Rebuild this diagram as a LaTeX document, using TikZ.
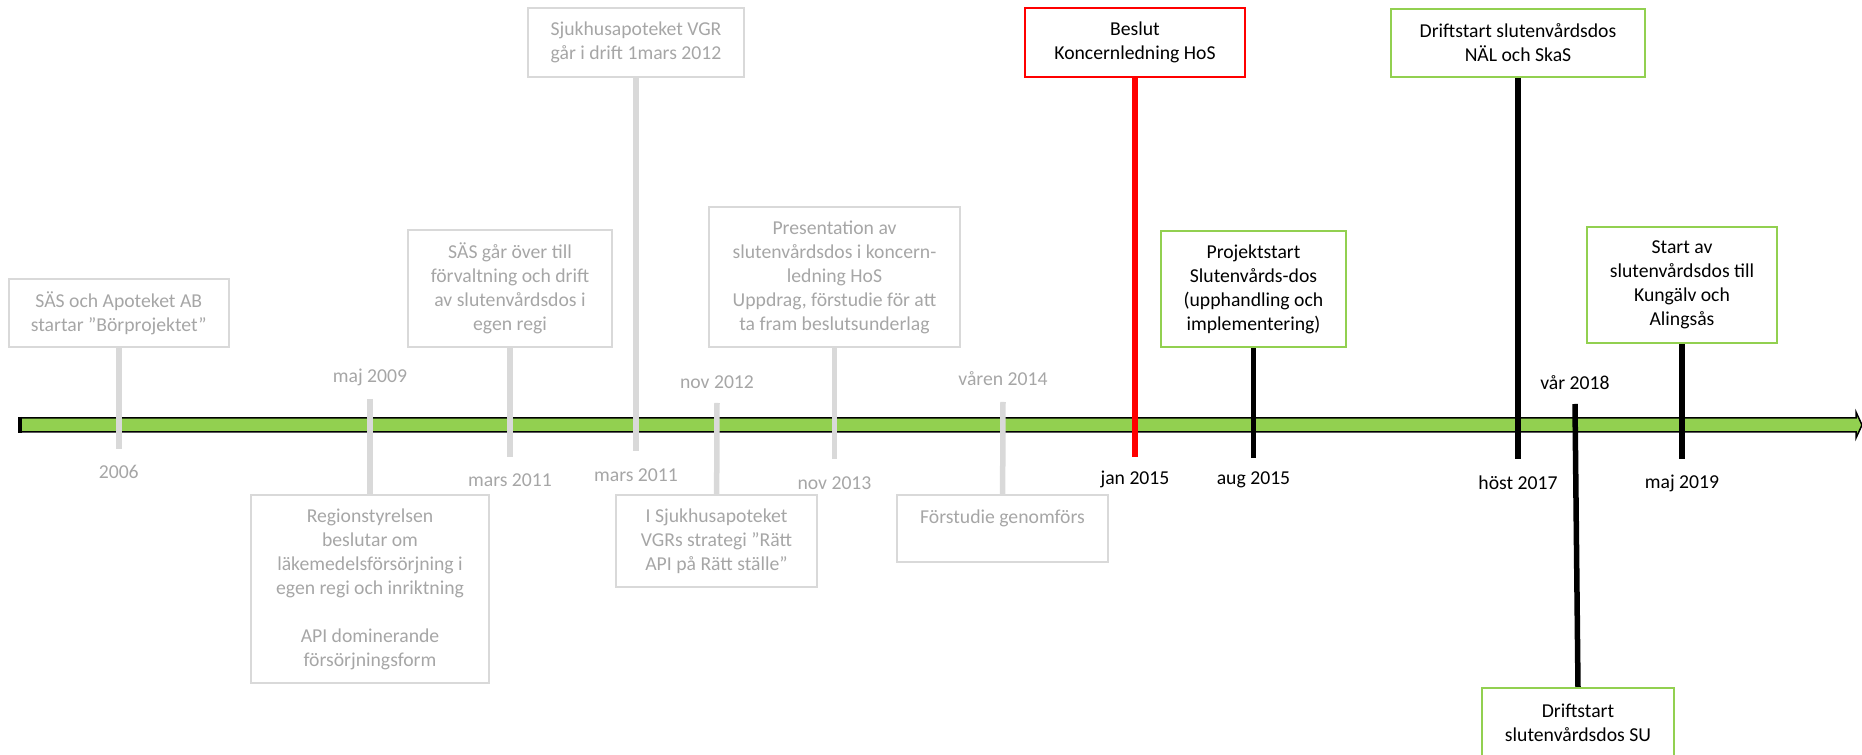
\documentclass[tikz,border=0pt]{standalone}
\usepackage{fontspec}
\setmainfont{Carlito}

\definecolor{boxgray}{RGB}{217,217,217}
\definecolor{txtgray}{RGB}{166,166,166}
\definecolor{linegreen}{RGB}{146,208,80}

\tikzset{
  graybox/.style={draw=boxgray, line width=0.02cm, text=txtgray, align=center, inner sep=0pt},
  greenbox/.style={draw=linegreen, line width=0.02cm, align=center, inner sep=0pt},
  redbox/.style={draw=red, line width=0.015cm, align=center, inner sep=0pt},
  graystem/.style={boxgray, line width=0.055cm},
  blackstem/.style={black, line width=0.055cm},
  redstem/.style={red, line width=0.055cm},
  graydate/.style={text=txtgray},
  blackdate/.style={text=black}
}

\begin{document}
\begin{tikzpicture}[x=0.01cm, y=-0.01cm, font=\fontsize{5.6}{6.83}\selectfont]
\useasboundingbox (0,0) rectangle (1862,755);

% time axis
\draw[fill=linegreen, line width=0.015cm] (20,418) -- (1856,418) -- (1856,412) -- (1862,425)
  -- (1856,438) -- (1856,432) -- (20,432) -- cycle;
\draw[line width=0.045cm] (20,417) -- (20,433);

% earlier events (gray)
\node[graybox, minimum width=2.2cm, minimum height=0.68cm] (b2006) at (118.75,313)
  {SÄS och Apoteket AB\\startar ”Börprojektet”};
\node[graybox, minimum width=2.37cm, minimum height=1.88cm] (b2009) at (370,589)
  {Regionstyrelsen\\beslutar om\\läkemedelsförsörjning i\\egen regi och inriktning\\~\\API dominerande\\försörjningsform};
\node[graybox, minimum width=2.04cm, minimum height=1.17cm] (b2011) at (510,288.5)
  {SÄS går över till\\förvaltning och drift\\av slutenvårdsdos i\\egen regi};
\node[graybox, minimum width=2.16cm, minimum height=0.69cm] (b2012a) at (636,42.5)
  {Sjukhusapoteket VGR\\går i drift 1mars 2012};
\node[graybox, minimum width=2.01cm, minimum height=0.92cm] (b2012b) at (716.5,541)
  {I Sjukhusapoteket\\VGRs strategi ”Rätt\\API på Rätt ställe”};
\node[graybox, minimum width=2.51cm, minimum height=1.40cm] (b2013) at (834.5,277)
  {Presentation av\\slutenvårdsdos i koncern-\\ledning HoS\\Uppdrag, förstudie för att\\ta fram beslutsunderlag};
\node[graybox, minimum width=2.11cm, minimum height=0.67cm] (b2014) at (1002.5,528.5)
  {Förstudie genomförs\\~};

% decision and later events
\node[redbox, minimum width=2.2cm, minimum height=0.69cm] (b2015a) at (1135,42.5)
  {Beslut\\Koncernledning HoS};
\node[greenbox, minimum width=1.84cm, minimum height=1.16cm] (b2015b) at (1253.5,289)
  {Projektstart\\Slutenvårds-dos\\(upphandling och\\implementering)};
\node[greenbox, minimum width=2.54cm, minimum height=0.68cm] (b2017) at (1518,43)
  {Driftstart slutenvårdsdos\\NÄL och SkaS};
\node[greenbox, minimum width=1.92cm, minimum height=0.70cm] (b2018) at (1578,723)
  {Driftstart\\slutenvårdsdos SU};
\node[greenbox, minimum width=1.90cm, minimum height=1.16cm] (b2019) at (1682,285)
  {Start av\\slutenvårdsdos till\\Kungälv och\\Alingsås};

% stem ends
\coordinate (t2006) at (118.75,449);
\coordinate (t2009) at (370,399);
\coordinate (t2011) at (510,457);
\coordinate (t2012a) at (636,451);
\coordinate (t2012b) at (717,403);
\coordinate (t2013) at (834.5,459);
\coordinate (t2014) at (1003,402);
\coordinate (t2015a) at (1135,457);
\coordinate (t2015b) at (1253.5,458);
\coordinate (t2017) at (1518,459);
\coordinate (t2018) at (1575,404);
\coordinate (t2019) at (1682,459);

% stems
\draw[graystem] (b2006) -- (t2006);
\draw[graystem] (t2009) -- (b2009);
\draw[graystem] (b2011) -- (t2011);
\draw[graystem] (b2012a) -- (t2012a);
\draw[graystem] (t2012b) -- (b2012b);
\draw[graystem] (b2013) -- (t2013);
\draw[graystem] (t2014) -- (b2014);
\draw[redstem] (b2015a) -- (t2015a);
\draw[blackstem] (b2015b) -- (t2015b);
\draw[blackstem] (b2017) -- (t2017);
\draw[blackstem] (t2018) -- (b2018.north);
\draw[blackstem] (b2019) -- (t2019);

% dates
\node[graydate] (d2006) at (118.75,472) {2006};
\node[graydate] (d2009) at (370,377) {maj 2009};
\node[graydate] (d2011) at (510,480) {mars 2011};
\node[graydate] (d2012a) at (636,475) {mars 2011};
\node[graydate] (d2012b) at (717,382) {nov 2012};
\node[graydate] (d2013) at (834.5,483) {nov 2013};
\node[graydate] (d2014) at (1003,379) {våren 2014};
\node[blackdate] (d2015a) at (1135,479) {jan 2015};
\node[blackdate] (d2015b) at (1253.5,480) {aug 2015};
\node[blackdate] (d2017) at (1518,483) {höst 2017};
\node[blackdate] (d2018) at (1575,383) {vår 2018};
\node[blackdate] (d2019) at (1682,483) {maj 2019};

\end{tikzpicture}
\end{document}
